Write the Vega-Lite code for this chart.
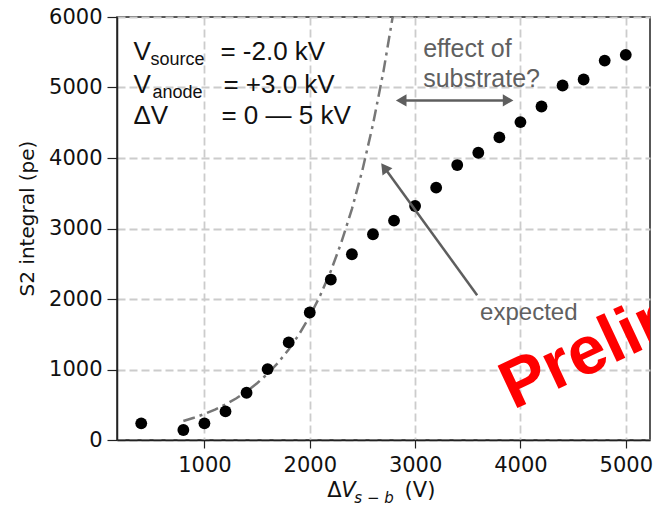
{
  "$schema": "https://vega.github.io/schema/vega-lite/v6.json",
  "autosize": {"type": "none"},
  "width": 533,
  "height": 423,
  "padding": {"left": 117, "top": 17, "right": 4, "bottom": 68},
  "background": "white",
  "config": {
    "view": {"stroke": "#222222", "strokeWidth": 1.5},
    "axis": {
      "labelFont": "DejaVu Sans",
      "labelFontSize": 21,
      "labelColor": "#111111",
      "titleFont": "DejaVu Sans",
      "titleFontSize": 20,
      "titleFontWeight": "normal",
      "titleColor": "#111111",
      "domainColor": "#222222",
      "domainWidth": 1.5,
      "tickColor": "#222222",
      "tickWidth": 1.2,
      "gridColor": "#cccccc",
      "gridWidth": 1.8,
      "gridDash": [8, 4]
    }
  },
  "layer": [
    {
      "data": {
        "values": [
          {"dv": 800, "s2": 270}, {"dv": 900, "s2": 316}, {"dv": 1000, "s2": 369},
          {"dv": 1100, "s2": 431}, {"dv": 1200, "s2": 504}, {"dv": 1300, "s2": 589},
          {"dv": 1400, "s2": 688}, {"dv": 1500, "s2": 805}, {"dv": 1600, "s2": 940},
          {"dv": 1700, "s2": 1099}, {"dv": 1800, "s2": 1285}, {"dv": 1900, "s2": 1502},
          {"dv": 2000, "s2": 1755}, {"dv": 2100, "s2": 2052}, {"dv": 2200, "s2": 2398},
          {"dv": 2300, "s2": 2803}, {"dv": 2400, "s2": 3276}, {"dv": 2500, "s2": 3829},
          {"dv": 2600, "s2": 4476}, {"dv": 2700, "s2": 5232}, {"dv": 2800, "s2": 6116}
        ]
      },
      "mark": {"type": "line", "color": "#777777", "strokeWidth": 2.5, "strokeDash": [12, 5, 3, 5], "clip": true},
      "encoding": {
        "x": {"field": "dv", "type": "quantitative", "scale": {"domain": [170, 5230], "nice": false, "zero": false}},
        "y": {"field": "s2", "type": "quantitative", "scale": {"domain": [0, 6000], "nice": false}}
      }
    },
    {
      "data": {
        "values": [
          {"dv": 400, "s2": 236}, {"dv": 800, "s2": 142}, {"dv": 1000, "s2": 236},
          {"dv": 1200, "s2": 406}, {"dv": 1400, "s2": 670}, {"dv": 1600, "s2": 1006},
          {"dv": 1800, "s2": 1384}, {"dv": 2000, "s2": 1808}, {"dv": 2200, "s2": 2276},
          {"dv": 2400, "s2": 2635}, {"dv": 2600, "s2": 2918}, {"dv": 2800, "s2": 3112},
          {"dv": 3000, "s2": 3319}, {"dv": 3200, "s2": 3579}, {"dv": 3400, "s2": 3900},
          {"dv": 3600, "s2": 4075}, {"dv": 3800, "s2": 4292}, {"dv": 4000, "s2": 4509},
          {"dv": 4200, "s2": 4731}, {"dv": 4400, "s2": 5028}, {"dv": 4600, "s2": 5113},
          {"dv": 4800, "s2": 5382}, {"dv": 5000, "s2": 5463}
        ]
      },
      "mark": {"type": "circle", "color": "black", "opacity": 1, "size": 140},
      "encoding": {
        "x": {
          "field": "dv", "type": "quantitative",
          "scale": {"domain": [170, 5230], "nice": false, "zero": false},
          "axis": {"values": [1000, 2000, 3000, 4000, 5000], "format": "d", "title": null, "tickSize": 8, "labelPadding": 6}
        },
        "y": {
          "field": "s2", "type": "quantitative",
          "scale": {"domain": [0, 6000], "nice": false},
          "axis": {"values": [0, 1000, 2000, 3000, 4000, 5000, 6000], "format": "d", "title": "S2 integral (pe)", "tickSize": 10, "labelPadding": 5, "titleX": -80, "titleY": 201}
        }
      }
    },
    {
      "data": {"values": [{}]},
      "layer": [
        {"mark": {"type": "text", "text": "V", "font": "Liberation Sans", "fontSize": 26, "align": "left", "baseline": "alphabetic", "color": "#111111"},
         "encoding": {"x": {"datum": 326}, "y": {"datum": 5384}}},
        {"mark": {"type": "text", "text": "source", "font": "Liberation Sans", "fontSize": 18, "align": "left", "baseline": "alphabetic", "color": "#111111"},
         "encoding": {"x": {"datum": 488}, "y": {"datum": 5313}}},
        {"mark": {"type": "text", "text": "= -2.0 kV", "font": "Liberation Sans", "fontSize": 26, "align": "left", "baseline": "alphabetic", "color": "#111111"},
         "encoding": {"x": {"datum": 1152}, "y": {"datum": 5384}}},
        {"mark": {"type": "text", "text": "V", "font": "Liberation Sans", "fontSize": 26, "align": "left", "baseline": "alphabetic", "color": "#111111"},
         "encoding": {"x": {"datum": 326}, "y": {"datum": 4916}}},
        {"mark": {"type": "text", "text": "anode", "font": "Liberation Sans", "fontSize": 18, "align": "left", "baseline": "alphabetic", "color": "#111111"},
         "encoding": {"x": {"datum": 506}, "y": {"datum": 4846}}},
        {"mark": {"type": "text", "text": "= +3.0 kV", "font": "Liberation Sans", "fontSize": 26, "align": "left", "baseline": "alphabetic", "color": "#111111"},
         "encoding": {"x": {"datum": 1180}, "y": {"datum": 4916}}},
        {"mark": {"type": "text", "text": "ΔV", "font": "Liberation Sans", "fontSize": 26, "align": "left", "baseline": "alphabetic", "color": "#111111"},
         "encoding": {"x": {"datum": 326}, "y": {"datum": 4477}}},
        {"mark": {"type": "text", "text": "= 0 — 5 kV", "font": "Liberation Sans", "fontSize": 26, "align": "left", "baseline": "alphabetic", "color": "#111111"},
         "encoding": {"x": {"datum": 1161}, "y": {"datum": 4477}}},
        {"mark": {"type": "text", "text": "effect of", "font": "Liberation Sans", "fontSize": 25, "align": "left", "baseline": "alphabetic", "color": "#606060"},
         "encoding": {"x": {"datum": 3077}, "y": {"datum": 5426}}},
        {"mark": {"type": "text", "text": "substrate?", "font": "Liberation Sans", "fontSize": 25, "align": "left", "baseline": "alphabetic", "color": "#606060"},
         "encoding": {"x": {"datum": 3077}, "y": {"datum": 5001}}},
        {"mark": {"type": "text", "text": "expected", "font": "Liberation Sans", "fontSize": 24, "align": "left", "baseline": "alphabetic", "color": "#606060"},
         "encoding": {"x": {"datum": 3617}, "y": {"datum": 1700}}},
        {"mark": {"type": "rule", "color": "#5e5e5e", "strokeWidth": 2.5},
         "encoding": {"x": {"datum": 2868}, "x2": {"datum": 3883}, "y": {"datum": 4817}}},
        {"mark": {"type": "point", "shape": "triangle-left", "filled": true, "color": "#5e5e5e", "opacity": 1, "size": 150},
         "encoding": {"x": {"datum": 2868}, "y": {"datum": 4817}}},
        {"mark": {"type": "point", "shape": "triangle-right", "filled": true, "color": "#5e5e5e", "opacity": 1, "size": 150},
         "encoding": {"x": {"datum": 3883}, "y": {"datum": 4817}}},
        {"mark": {"type": "rule", "color": "#5e5e5e", "strokeWidth": 2.5},
         "encoding": {"x": {"datum": 3589}, "y": {"datum": 2054}, "x2": {"datum": 2708}, "y2": {"datum": 3865}}},
        {"mark": {"type": "point", "shape": "triangle-up", "filled": true, "color": "#5e5e5e", "opacity": 1, "size": 150, "angle": 324},
         "encoding": {"x": {"datum": 2708}, "y": {"datum": 3865}}},
        {"mark": {"type": "text", "text": "Δ", "font": "DejaVu Sans", "fontSize": 21, "align": "left", "baseline": "alphabetic", "color": "#111111"},
         "encoding": {"x": {"datum": 2167}, "y": {"datum": -808}}},
        {"mark": {"type": "text", "text": "V", "font": "DejaVu Sans", "fontStyle": "italic", "fontSize": 21, "align": "left", "baseline": "alphabetic", "color": "#111111"},
         "encoding": {"x": {"datum": 2299}, "y": {"datum": -808}}},
        {"mark": {"type": "text", "text": "s − b", "font": "DejaVu Sans", "fontStyle": "italic", "fontSize": 15, "align": "left", "baseline": "alphabetic", "color": "#111111"},
         "encoding": {"x": {"datum": 2423}, "y": {"datum": -893}}},
        {"mark": {"type": "text", "text": "(V)", "font": "DejaVu Sans", "fontSize": 21, "align": "left", "baseline": "alphabetic", "color": "#111111"},
         "encoding": {"x": {"datum": 2900}, "y": {"datum": -808}}},
        {"mark": {"type": "text", "text": "Preliminary", "font": "Liberation Sans", "fontWeight": "bold", "fontSize": 68, "align": "left", "baseline": "alphabetic", "color": "#ff0000", "angle": 335, "clip": true},
         "encoding": {"x": {"datum": 3931}, "y": {"datum": 425}}}
      ]
    }
  ]
}
